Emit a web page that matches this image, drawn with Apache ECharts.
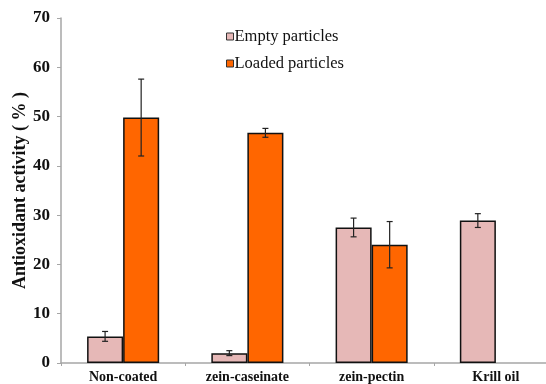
<!DOCTYPE html>
<html>
<head>
<meta charset="utf-8">
<script src="https://cdn.jsdelivr.net/npm/echarts@6/dist/echarts.min.js"></script>
<style>
  html, body { margin: 0; padding: 0; background: #fff; }
  #chart { width: 546px; height: 384px; }
</style>
</head>
<body>
<div id="chart"></div>
<script>
// Antioxidant activity of empty and krill-oil-loaded particles
const categories = ['Non-coated', 'zein-caseinate', 'zein-pectin', 'Krill oil'];
const emptyValues = [5.4, 2.0, 27.5, 28.9];
const emptyErrors = [1.0, 0.5, 1.9, 1.4];
const loadedValues = [49.8, 46.7, 24.0, null];
const loadedErrors = [7.8, 0.9, 4.7, null];
const yTicks = [0, 10, 20, 30, 40, 50, 60, 70];

const serif = '"Liberation Serif", "Times New Roman", serif';
const BAR_FRAC = 36 / 124; // share of one category band taken by a single bar

function errorData(values, errors) {
  return values.map((v, i) => (v == null ? [i, null, null, null] : [i, v, v - errors[i], v + errors[i]]));
}

function errorRenderer(side) {
  return function (params, api) {
    const hi = api.value(3);
    if (hi == null || isNaN(hi)) return;
    const idx = api.value(0);
    const band = api.size([1, 0])[0];
    const offset = side * band * BAR_FRAC / 2;
    const top = api.coord([idx, api.value(3)]);
    const bot = api.coord([idx, api.value(2)]);
    const x = top[0] + offset;
    const cap = 3;
    const style = { stroke: '#222', lineWidth: 1.2 };
    return {
      type: 'group',
      children: [
        { type: 'line', shape: { x1: x, y1: top[1], x2: x, y2: bot[1] }, style },
        { type: 'line', shape: { x1: x - cap, y1: top[1], x2: x + cap, y2: top[1] }, style },
        { type: 'line', shape: { x1: x - cap, y1: bot[1], x2: x + cap, y2: bot[1] }, style }
      ]
    };
  };
}

const chart = echarts.init(document.getElementById('chart'), null, { renderer: 'canvas' });
chart.setOption({
  animation: false,
  backgroundColor: '#fff',
  grid: {
    left: 61, width: 497, top: 18, height: 345,
    containLabel: false,
    outerBoundsMode: 'none'
  },
  legend: {
    orient: 'vertical',
    left: 221,
    top: 23,
    itemWidth: 7,
    itemHeight: 7,
    itemGap: 10,
    icon: 'rect',
    itemStyle: { borderColor: '#333', borderWidth: 1 },
    textStyle: { fontFamily: serif, fontSize: 16.5, color: '#111', padding: [0, 0, 0, -4] },
    data: ['Empty particles', 'Loaded particles']
  },
  xAxis: {
    type: 'category',
    data: categories,
    axisLine: { lineStyle: { color: '#a6a6a6', width: 1.5 } },
    axisTick: { show: true, length: 3, lineStyle: { color: '#a6a6a6' } },
    axisLabel: { fontFamily: serif, fontWeight: 'bold', fontSize: 14, color: '#111', margin: 7 }
  },
  yAxis: {
    type: 'value',
    min: yTicks[0],
    max: yTicks[yTicks.length - 1],
    interval: 10,
    name: 'Antioxidant activity ( % )',
    nameLocation: 'middle',
    nameGap: 32,
    nameMoveOverlap: false,
    nameTextStyle: { fontFamily: serif, fontWeight: 'bold', fontSize: 18, color: '#111' },
    axisLine: { show: true, lineStyle: { color: '#a6a6a6', width: 1.5 } },
    axisTick: { show: true, length: 4, lineStyle: { color: '#a6a6a6' } },
    splitLine: { show: false },
    axisLabel: { fontFamily: serif, fontWeight: 'bold', fontSize: 17, color: '#111', margin: 11 }
  },
  series: [
    {
      name: 'Empty particles',
      type: 'bar',
      data: emptyValues,
      barGap: '0%',
      barCategoryGap: '42%',
      itemStyle: { color: '#e6b8b7', borderColor: '#111', borderWidth: 1.5 }
    },
    {
      name: 'Loaded particles',
      type: 'bar',
      data: loadedValues,
      barGap: '0%',
      barCategoryGap: '42%',
      itemStyle: { color: '#ff6600', borderColor: '#111', borderWidth: 1.5 }
    },
    {
      type: 'custom',
      renderItem: errorRenderer(-1),
      data: errorData(emptyValues, emptyErrors),
      encode: { x: 0, y: [1, 2, 3] },
      z: 10,
      silent: true
    },
    {
      type: 'custom',
      renderItem: errorRenderer(1),
      data: errorData(loadedValues, loadedErrors),
      encode: { x: 0, y: [1, 2, 3] },
      z: 10,
      silent: true
    }
  ]
});
</script>
</body>
</html>
